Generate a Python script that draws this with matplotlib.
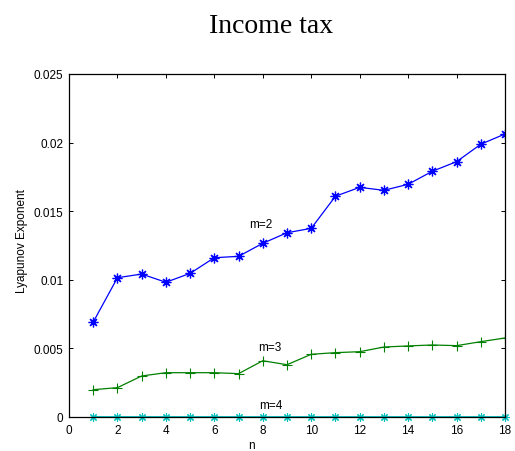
import matplotlib
matplotlib.use("Agg")
import matplotlib.pyplot as plt
import numpy as np

n = list(range(1, 19))
m2 = [0.00692, 0.01015, 0.01042, 0.00982, 0.01047, 0.01161, 0.01171, 0.01266, 0.01343,
      0.01375, 0.01609, 0.01674, 0.01652, 0.01696, 0.01791, 0.01861, 0.01988, 0.02063]
m3 = [0.00199, 0.00214, 0.00299, 0.00323, 0.00323, 0.00323, 0.00316, 0.00410, 0.00381,
      0.00457, 0.00469, 0.00476, 0.00510, 0.00518, 0.00525, 0.00520, 0.00549, 0.00576]
m4 = [0.0] * 18

xticks = [0, 2, 4, 6, 8, 10, 12, 14, 16, 18]
yticks = [0, 0.005, 0.01, 0.015, 0.02, 0.025]
yticklabels = ["0", "0.005", "0.01", "0.015", "0.02", "0.025"]

plt.rcParams['font.family'] = ['Liberation Sans', 'DejaVu Sans']

W, H = 515, 452
fig = plt.figure(figsize=(W / 100, H / 100), dpi=100)
ax = fig.add_axes([69 / W, 1 - 418 / H, 436 / W, 343 / H])

blue = (0, 0, 1)
green = (0, 0.5, 0)
cyan = (0, 0.75, 0.75)
asterisk = (8, 2, 0)

ax.plot(n, m2, color=blue, lw=0.9, marker=asterisk, ms=7, mew=0.9)
ax.plot(n, m3, color=green, lw=0.9, marker='+', ms=7, mew=0.8)
ax.plot(n, m4, color=cyan, lw=1.3, marker=asterisk, ms=6, mew=0.8, clip_on=False)

ax.text(7.45, 0.0141, "m=2", fontsize=8.5, ha='left', va='center')
ax.text(7.8, 0.0051, "m=3", fontsize=8.5, ha='left', va='center')
ax.text(7.86, 0.00087, "m=4", fontsize=8.5, ha='left', va='center')

ax.set_xlim(0, 18)
ax.set_ylim(0, 0.025)
ax.set_xticks(xticks)
ax.set_xticklabels([str(v) for v in xticks])
ax.set_yticks(yticks)
ax.set_yticklabels(yticklabels)
ax.tick_params(direction='in', length=3, width=0.7, top=True, right=True,
               labelsize=8.5, pad=4)
ax.tick_params(axis='x', pad=5)
for s in ax.spines.values():
    s.set_linewidth(0.9)

fig.text(251.5 / W, 1 - 449 / H, "n", fontsize=8.5, ha='center', va='baseline')
fig.text(22 / W, 1 - 241 / H, "Lyapunov Exponent", fontsize=8.5, rotation=90,
         ha='center', va='center')
fig.text(271.5 / W, 1 - 33 / H, "Income tax", fontsize=20, family='Liberation Serif',
         ha='center', va='baseline')

fig.savefig("out.png", dpi=100)
